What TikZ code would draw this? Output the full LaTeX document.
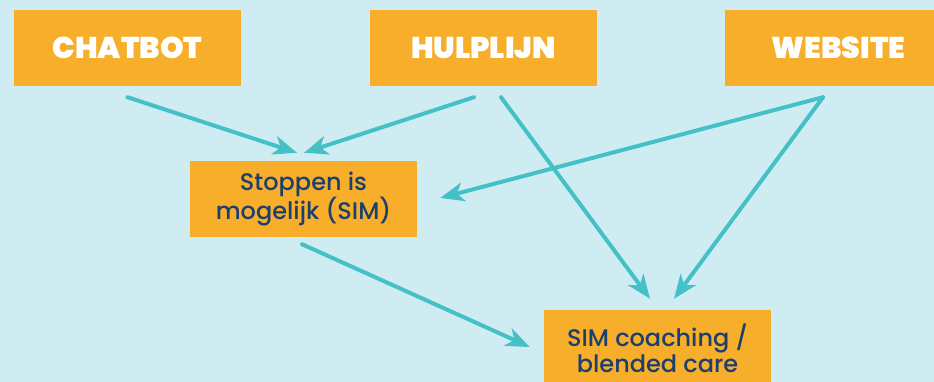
\documentclass[tikz,border=0pt]{standalone}
\usepackage{fontspec}
\setmainfont{Poppins}
\newfontfamily\heavyfont{Poppins Black}
\newfontfamily\mediumfont{Poppins Medium}
\usetikzlibrary{arrows.meta}
\definecolor{skyback}{HTML}{CFECF3}
\definecolor{boxorange}{HTML}{F7AE2B}
\definecolor{arrowteal}{HTML}{44C1C6}
\definecolor{textnavy}{HTML}{1D3F6E}

\begin{document}
\begin{tikzpicture}[x=1pt,y=-1pt,every node/.style = {fill=boxorange, align=center, inner sep=0pt, minimum width=227pt, minimum height=76pt},
  source/.style = {text=white, font=\fontsize{30}{30}\selectfont\heavyfont},
  target/.style = {text=textnavy, font=\fontsize{24}{26}\selectfont\mediumfont},
  link/.style = {draw=arrowteal, line width=4pt, line cap=round, -{Stealth[length=24pt,width=19pt,inset=7pt]}}]
\fill[skyback] (0,0) rectangle (934,382);
\useasboundingbox (0,0) rectangle (934,382);
\node[source](chatbot) at (127.5,48) {\raisebox{-3pt}{CHATBOT}};
\node[source](hulplijn) at (483.5,48) {\raisebox{-3pt}{HULPLIJN}};
\node[source](website) at (838.5,48) {\raisebox{-3pt}{WEBSITE}};
\node[target](sim) at (303.5,199) {Stoppen is\\mogelijk (SIM)};
\node[target](coaching) at (657.5,348) {SIM coaching /\\blended care};
\draw[link] ([yshift=-11pt]chatbot.south) -- ([xshift=-6.5pt,yshift=8pt]sim.north);
\draw[link] ([xshift=-9.5pt,yshift=-11pt]hulplijn.south) -- ([xshift=0.5pt,yshift=8pt]sim.north);
\draw[link] ([xshift=-15.5pt,yshift=-11pt]website.south) -- ([xshift=23pt,yshift=1pt]sim.east);
\draw[link] ([xshift=17.5pt,yshift=-11pt]hulplijn.south) -- ([xshift=-7.5pt,yshift=11pt]coaching.north);
\draw[link] ([xshift=-15.5pt,yshift=-11pt]website.south) -- ([xshift=16.5pt,yshift=11pt]coaching.north);
\draw[link] ([xshift=-1.5pt,yshift=-7pt]sim.south) -- ([xshift=-14pt,yshift=1pt]coaching.west);
\end{tikzpicture}
\end{document}
